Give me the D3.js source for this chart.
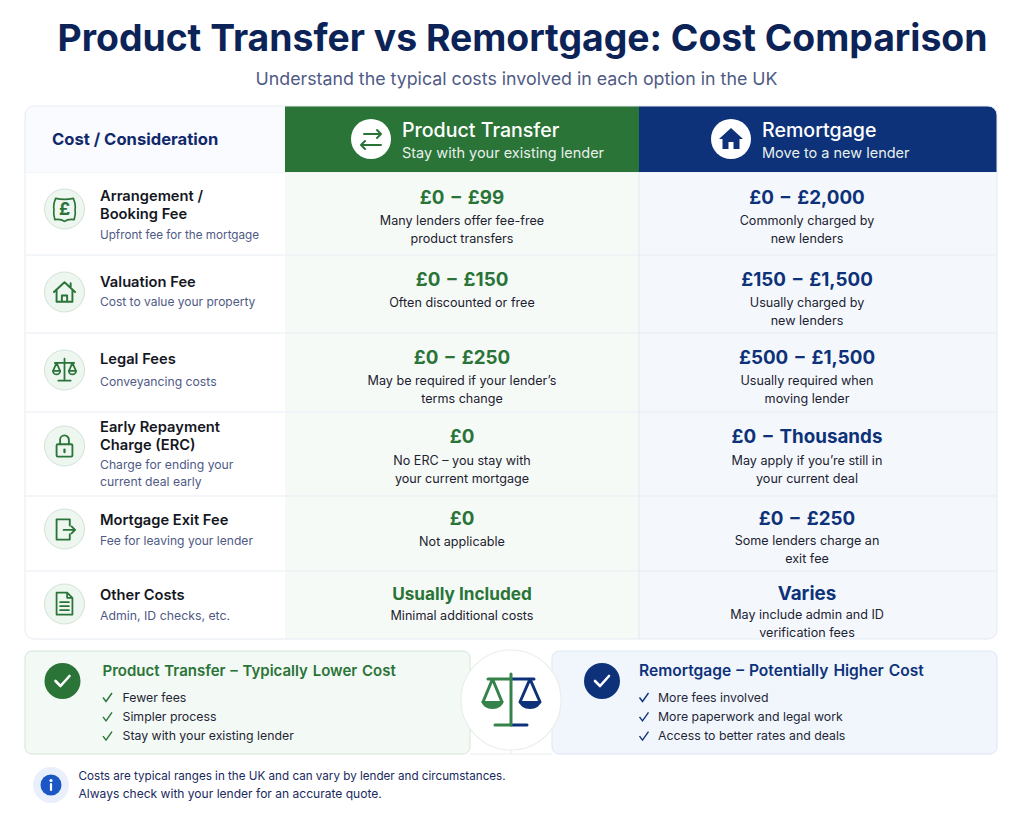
<!DOCTYPE html>
<html>
<head>
<meta charset="utf-8">
<script src="https://cdn.jsdelivr.net/npm/d3@7"></script>
<style>
body { margin: 0; background: #fff; }
svg { display: block; }
text { font-family: Inter, "Noto Sans", sans-serif; }
</style>
</head>
<body>
<div class="container"></div>
<script>
const WIDTH = 1024;
const HEIGHT = 819;
const GREEN = '#2a7437';
const SCALE_GREEN = '#35834a';
const NAVY = '#0e3279';
const TITLE_NAVY = '#0c2358';

// chart content
var title = 'Product Transfer vs Remortgage: Cost Comparison';
var subtitle = 'Understand the typical costs involved in each option in the UK';
var headCorner = 'Cost / Consideration';
var headNames = ['Product Transfer', 'Remortgage'];
var headSubs = ['Stay with your existing lender', 'Move to a new lender'];
var rowLabels = [['Arrangement /', 'Booking Fee'], ['Valuation Fee'], ['Legal Fees'],
    ['Early Repayment', 'Charge (ERC)'], ['Mortgage Exit Fee'], ['Other Costs']];
var rowSubs = [['Upfront fee for the mortgage'], ['Cost to value your property'], ['Conveyancing costs'],
    ['Charge for ending your', 'current deal early'], ['Fee for leaving your lender'], ['Admin, ID checks, etc.']];
var transferCosts = ['£0 – £99', '£0 – £150', '£0 – £250', '£0', '£0', 'Usually Included'];
var transferNotes = [['Many lenders offer fee-free', 'product transfers'], ['Often discounted or free'],
    ['May be required if your lender’s', 'terms change'], ['No ERC – you stay with', 'your current mortgage'],
    ['Not applicable'], ['Minimal additional costs']];
var remortgageCosts = ['£0 – £2,000', '£150 – £1,500', '£500 – £1,500', '£0 – Thousands', '£0 – £250', 'Varies'];
var remortgageNotes = [['Commonly charged by', 'new lenders'], ['Usually charged by', 'new lenders'],
    ['Usually required when', 'moving lender'], ['May apply if you’re still in', 'your current deal'],
    ['Some lenders charge an', 'exit fee'], ['May include admin and ID', 'verification fees']];
var summaryTitles = ['Product Transfer – Typically Lower Cost', 'Remortgage – Potentially Higher Cost'];
var transferPoints = ['Fewer fees', 'Simpler process', 'Stay with your existing lender'];
var remortgagePoints = ['More fees involved', 'More paperwork and legal work', 'Access to better rates and deals'];
var footnote = ['Costs are typical ranges in the UK and can vary by lender and circumstances.',
    'Always check with your lender for an accurate quote.'];

// layout
const COLS = [25, 285, 639, 997];
const ROWS = [106, 172, 255, 333, 412, 496, 571, 639];
const ICON_Y = [209, 292, 370, 446, 529, 604];
const LABEL_Y = [196, 282, 359, 427, 520, 595];
const SUB_Y = [235, 302, 382, 465, 541, 616];
const SUB_SIZE = [11.7, 12, 12.2, 12.2, 12.1, 12.3];
const COST_Y = [197.5, 279.5, 357.5, 436.5, 518.5, 593.5];
const NOTE_Y = [220.5, 302.5, 380.5, 460.5, 541.5, 615.5];
const NOTE_Y_RM = [220.5, 302.5, 380.5, 460.5, 540.5, 614.5];

var translate = function(x, y) {
    return `translate(${x},${y})`;
};

var addLines = function(g, lines, x, y, step, size, weight, fill, anchor) {
    return g.selectAll(null).data(lines).enter().append('text')
        .attr('x', x)
        .attr('y', (d, i) => y + i * step)
        .attr('dy', '0.35em')
        .attr('text-anchor', anchor || 'start')
        .attr('font-size', size)
        .attr('font-weight', weight)
        .attr('fill', fill)
        .text((d) => d);
};

// range figures have wide dashes, plain words do not
var addCost = function(g, cost, x, y, color) {
    var isRange = cost.includes('–');
    var size = cost === 'Usually Included' ? 17.2 : 18.8;
    addLines(g, [cost], x, y, 0, size, 700, color, 'middle')
        .attr('word-spacing', isRange ? 2.5 : 0);
};

// icons, all drawn around 0,0
var stroke = function(g, d, color, width) {
    return g.append('path').attr('d', d).attr('fill', 'none').attr('stroke', color)
        .attr('stroke-width', width).attr('stroke-linecap', 'round').attr('stroke-linejoin', 'round');
};

var rowIcons = [
    function(g) { // pound note
        stroke(g, 'M-10,-12 Q0,-10 10,-12 Q13,-5 12,0 Q13,6 11,12 Q4,11 0,14 Q-4,11 -11,12 Q-13,6 -12,0 Q-13,-5 -10,-12Z', GREEN, 1.9);
        g.append('text').attr('text-anchor', 'middle').attr('y', 7).attr('font-size', 20)
            .attr('font-weight', 700).attr('fill', GREEN).text('£');
    },
    function(g) { // house
        stroke(g, 'M-12,0 L0,-11 L12,0 M-9,-2 V11 H9 V-2 M-3,11 V4 H3 V11 M7,-6 V-10', GREEN, 2.2);
    },
    function(g) { // scales
        stroke(g, 'M0,-13 V11 M-7,12 H7 M-11,-8 H11 M-9,-8 L-13,1 M-9,-8 L-5,1 M9,-8 L13,1 M9,-8 L5,1', GREEN, 2);
        stroke(g, 'M-13,1 H-5 A4,4 0 0 1 -13,1 Z M5,1 H13 A4,4 0 0 1 5,1 Z', GREEN, 2);
    },
    function(g) { // padlock
        stroke(g, 'M-5,-2 V-7 A5,5 0 0 1 5,-7 V-2', GREEN, 2.1);
        g.append('rect').attr('x', -9).attr('y', -2).attr('width', 18).attr('height', 14).attr('rx', 1.5)
            .attr('fill', 'none').attr('stroke', GREEN).attr('stroke-width', 2.1);
        stroke(g, 'M0,4 V7', GREEN, 2.6);
    },
    function(g) { // exit door
        stroke(g, 'M6,-4 V-11 H-9 V12 H6 V6 M-1,1 H12 M8,-3 L12,1 L8,5', GREEN, 2.1);
    },
    function(g) { // document
        stroke(g, 'M3,-13 H-9 V12 H9 V-7 Z M3,-13 V-7 H9 M-5,-2 H5 M-5,2.5 H5 M-5,7 H5', GREEN, 2);
    }
];

var swapIcon = function(g) {
    stroke(g, 'M-7,-5 H10 M6,-9 L10,-5 L6,-1 M10,6 H-10 M-6,2 L-10,6 L-6,10', GREEN, 2);
};

var houseIcon = function(g) {
    g.append('path').attr('fill', NAVY)
        .attr('d', 'M0,-11 L12,0 H8.5 V10 H2.5 V3 H-2.5 V10 H-8.5 V0 H-12 Z');
};

var drawHeader = function(svg) {
    var fills = ['#f9fbfe', GREEN, NAVY];
    svg.append('g').attr('clip-path', 'url(#tableClip)')
        .selectAll('rect').data(fills).enter().append('rect')
        .attr('x', (d, i) => COLS[i])
        .attr('y', ROWS[0])
        .attr('width', (d, i) => COLS[i + 1] - COLS[i])
        .attr('height', ROWS[1] - ROWS[0])
        .attr('fill', (d) => d);

    addLines(svg, [headCorner], 52, 139.5, 0, 16.6, 700, '#11296b');

    var iconX = [371, 731];
    var textX = [402, 762];
    var draws = [swapIcon, houseIcon];
    headNames.forEach(function(name, i) {
        var g = svg.append('g').attr('transform', translate(iconX[i], 139));
        g.append('circle').attr('r', 20).attr('fill', '#fff');
        draws[i](g);
        addLines(svg, [name], textX[i], 130.5, 0, 19.6, 500, '#fff');
        addLines(svg, [headSubs[i]], textX[i], 153, 0, 14.5, 400, '#e8f0ec');
    });
};

var drawBody = function(svg) {
    var g = svg.append('g').attr('clip-path', 'url(#tableClip)');
    var colFills = ['#fff', '#f6faf7', '#f4f8fd'];
    colFills.forEach(function(fill, i) {
        g.append('rect')
            .attr('x', COLS[i]).attr('y', ROWS[1])
            .attr('width', COLS[i + 1] - COLS[i])
            .attr('height', ROWS[7] - ROWS[1])
            .attr('fill', fill);
    });
    g.selectAll('line.row').data(ROWS.slice(1, 7)).enter().append('line')
        .classed('row', true)
        .attr('x1', COLS[0]).attr('x2', COLS[3])
        .attr('y1', (d) => d).attr('y2', (d) => d)
        .attr('stroke', '#e8edf2');
    g.append('line')
        .attr('x1', COLS[2]).attr('x2', COLS[2])
        .attr('y1', ROWS[1]).attr('y2', ROWS[7])
        .attr('stroke', '#e2e8f0');

    rowLabels.forEach(function(label, i) {
        var icon = svg.append('g').attr('transform', translate(64.5, ICON_Y[i]));
        icon.append('circle').attr('r', 20).attr('fill', '#eef6f0').attr('stroke', '#d3e2d7');
        rowIcons[i](icon.append('g').attr('transform', 'scale(0.88)'));

        addLines(svg, label, 100, LABEL_Y[i], 18, 14.7, 600, '#15171f');
        addLines(svg, rowSubs[i], 100, SUB_Y[i], 16.5, SUB_SIZE[i], 400, '#4f5a85');

        addCost(svg, transferCosts[i], 462, COST_Y[i], GREEN);
        addLines(svg, transferNotes[i], 462, NOTE_Y[i], 18, 12.6, 400, '#1c2230', 'middle');
        addCost(svg, remortgageCosts[i], 807, COST_Y[i], NAVY);
        addLines(svg, remortgageNotes[i], 807, NOTE_Y_RM[i], 18, 12.6, 400, '#1c2230', 'middle');
    });
};

var drawSummary = function(svg, x, fill, border, color, heading, headSize, points, badgeX, textX, tickX) {
    svg.append('rect')
        .attr('x', x).attr('y', 651)
        .attr('width', 445).attr('height', 103)
        .attr('rx', 7)
        .attr('fill', fill).attr('stroke', border);
    var badge = svg.append('g').attr('transform', translate(badgeX, 681));
    badge.append('circle').attr('r', 18).attr('fill', color);
    stroke(badge, 'M-7,0 L-2,5 L7,-5', '#fff', 2.6);

    addLines(svg, [heading], tickX, 671, 0, headSize, 600, color).attr('word-spacing', 1);
    addLines(svg, points, textX, 697.5, 19.3, 12.3, 400, '#1f2635');
    svg.append('g').selectAll('path').data(points).enter().append('path')
        .attr('transform', (d, i) => translate(tickX + 5, 697.5 + i * 19.3))
        .attr('d', 'M-4.5,0 L-1.5,4 L4.5,-4.5')
        .attr('fill', 'none').attr('stroke', color).attr('stroke-width', 1.4);
};

var drawBalance = function(svg) {
    svg.append('path').attr('d', 'M470,754 H552 M511,750 V754')
        .attr('fill', 'none').attr('stroke', '#e8eeea');
    var g = svg.append('g').attr('transform', translate(511, 700));
    g.append('circle').attr('r', 50).attr('fill', '#fff').attr('stroke', '#e9eeea').attr('stroke-width', 1.2);
    stroke(g, 'M0,-21 H23 M19,-21 L9,2 M19,-21 L29,2 M0,25 H16', NAVY, 3);
    stroke(g, 'M0,-26 V25 M-16,25 H0 M-23,-21 H0 M-18.5,-21 L-28,2 M-18.5,-21 L-9,2', SCALE_GREEN, 3);
    g.append('path').attr('d', 'M-29.5,1 H-7.5 A11,8 0 0 1 -29.5,1 Z').attr('fill', SCALE_GREEN);
    g.append('path').attr('d', 'M8,1 H30 A11,8 0 0 1 8,1 Z').attr('fill', NAVY);
};

var drawFootnote = function(svg) {
    var g = svg.append('g').attr('transform', translate(51, 785));
    g.append('circle').attr('r', 18).attr('fill', '#e9effb');
    g.append('circle').attr('r', 10.5).attr('fill', '#1a56c4');
    g.append('circle').attr('cy', -4.5).attr('r', 1.6).attr('fill', '#fff');
    stroke(g, 'M0,-1 V5', '#fff', 2.2);
    addLines(svg, [footnote[0]], 78.5, 776, 0, 11.65, 400, '#1a2a5e');
    addLines(svg, [footnote[1]], 78.5, 794, 0, 12.05, 400, '#1a2a5e');
};

var fillLayout = function() {
    var svg = d3.select('.container').append('svg')
        .attr('width', WIDTH)
        .attr('height', HEIGHT);

    svg.append('defs').append('clipPath').attr('id', 'tableClip')
        .append('rect')
        .attr('x', COLS[0]).attr('y', ROWS[0])
        .attr('width', COLS[3] - COLS[0]).attr('height', ROWS[7] - ROWS[0])
        .attr('rx', 9);

    addLines(svg, [title], 522.5, 38, 0, 37.35, 700, TITLE_NAVY, 'middle');
    addLines(svg, [subtitle], 516.5, 78.5, 0, 17.8, 400, '#4f5a85', 'middle');

    drawBody(svg);
    drawHeader(svg);
    svg.append('rect')
        .attr('x', COLS[0]).attr('y', ROWS[0])
        .attr('width', COLS[3] - COLS[0]).attr('height', ROWS[7] - ROWS[0])
        .attr('rx', 9)
        .attr('fill', 'none').attr('stroke', '#e6ebf1');

    drawSummary(svg, 25, '#f3f9f4', '#d5e5d8', GREEN, summaryTitles[0], 15, transferPoints, 62.5, 122.5, 102.5);
    drawSummary(svg, 552, '#f1f6fd', '#dde7f5', NAVY, summaryTitles[1], 15.6, remortgagePoints, 602, 658, 639);
    drawBalance(svg);
    drawFootnote(svg);
};
window.onload = fillLayout;
</script>
</body>
</html>
